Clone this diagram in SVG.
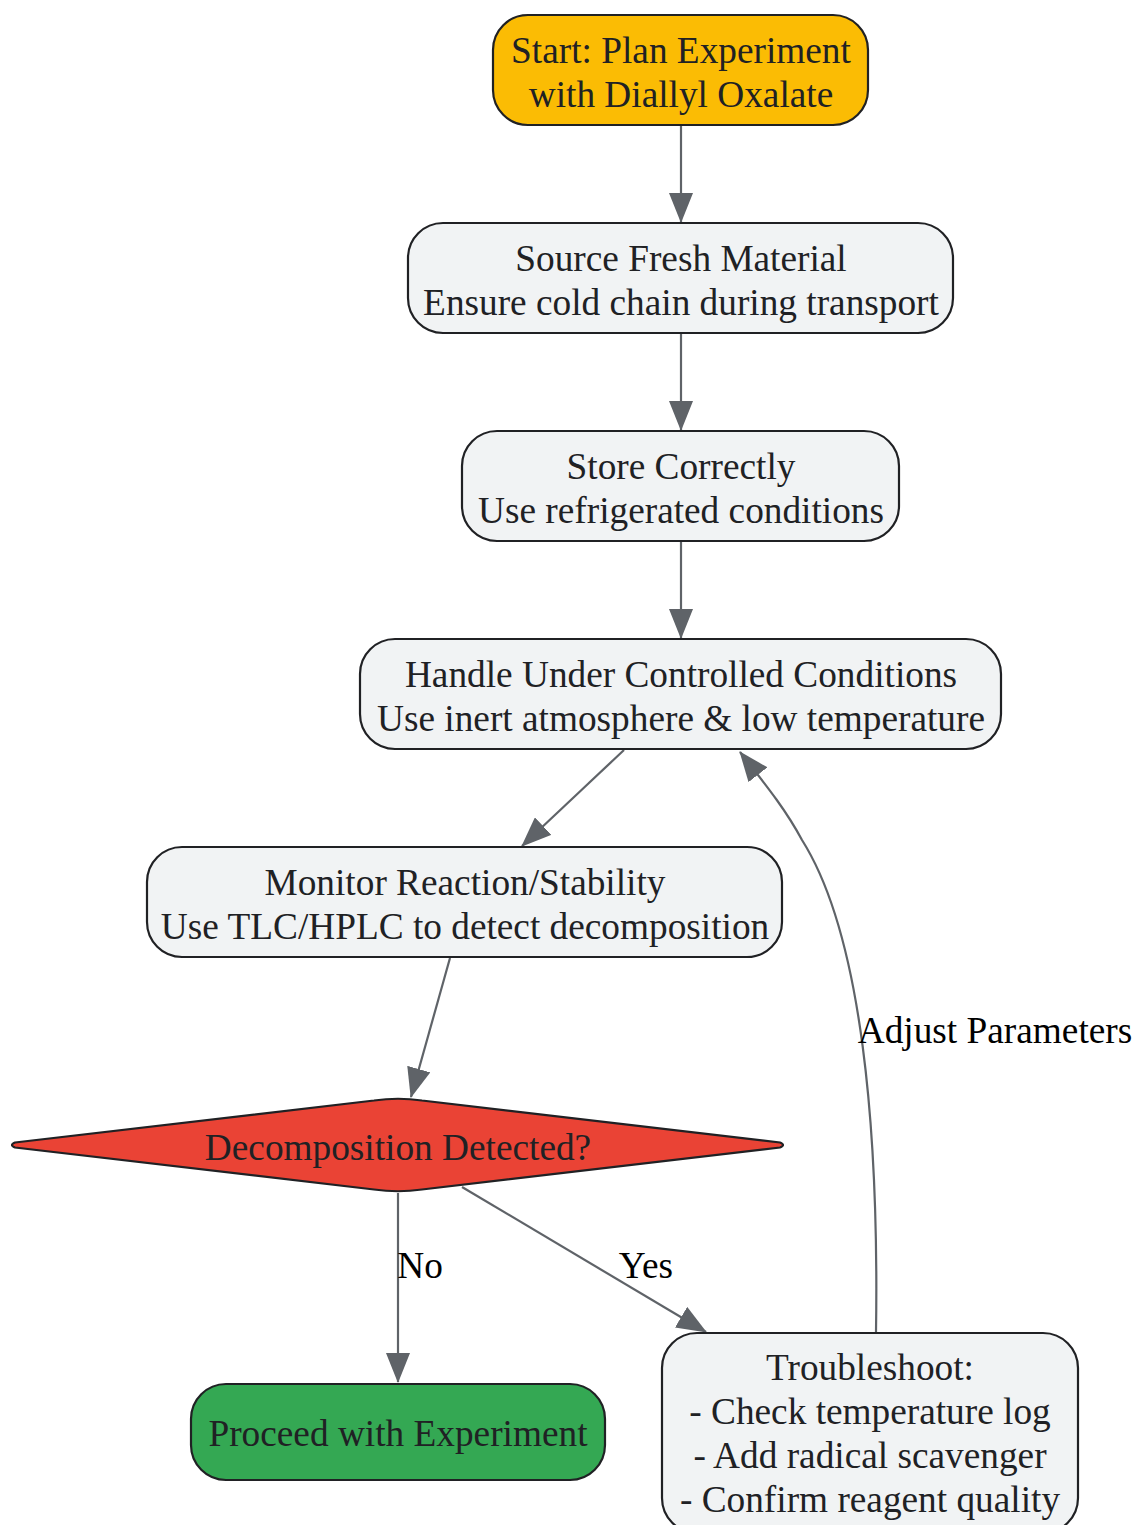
<svg xmlns="http://www.w3.org/2000/svg" width="1134" height="1525" viewBox="0 0 1134 1525">
<style>
.node{stroke:#202124;stroke-width:2.2}
.gray{fill:#f1f3f4}
.t{font-family:"Liberation Serif","Times New Roman",serif;font-size:37.3px;fill:#202124;text-anchor:middle;dominant-baseline:central}
.lbl{font-family:"Liberation Serif","Times New Roman",serif;font-size:37.3px;fill:#000;text-anchor:middle;dominant-baseline:central}
.edge{fill:none;stroke:#5f6368;stroke-width:2.2}
</style>
<defs>
<marker id="arr" markerUnits="userSpaceOnUse" markerWidth="30" markerHeight="24" viewBox="0 0 30 24" refX="29" refY="12" orient="auto">
<path d="M0,0 L30,12 L0,24 Z" fill="#5f6368"/>
</marker>
</defs>
<rect width="1134" height="1525" fill="#fff"/>
<g id="connectors">
<path class="edge" d="M681,125 L681,222" marker-end="url(#arr)"/>
<path class="edge" d="M681,333 L681,430" marker-end="url(#arr)"/>
<path class="edge" d="M681,541 L681,638" marker-end="url(#arr)"/>
<path class="edge" d="M624,750 L522,846" marker-end="url(#arr)"/>
<path class="edge" d="M450,958 L411,1097" marker-end="url(#arr)"/>
<path class="edge" d="M398,1193 L398,1382" marker-end="url(#arr)"/>
<path class="edge" d="M462,1187 L706,1332" marker-end="url(#arr)"/>
<path class="edge" d="M876,1333 C879,1130 862,935 802,840 C787,812 770,790 740,752" marker-end="url(#arr)"/>
<text class="lbl" x="420" y="1265">No</text>
<text class="lbl" x="646" y="1265">Yes</text>
<text class="lbl" x="995" y="1030">Adjust Parameters</text>
</g>
<g id="start">
<rect class="node" x="493" y="15" width="375" height="110" rx="35" fill="#fbbc04"/>
<text class="t" x="681" y="50">Start: Plan Experiment</text>
<text class="t" x="681" y="94">with Diallyl Oxalate</text>
</g>
<g id="source">
<rect class="node gray" x="408" y="223" width="545" height="110" rx="35"/>
<text class="t" x="681" y="258">Source Fresh Material</text>
<text class="t" x="681" y="302">Ensure cold chain during transport</text>
</g>
<g id="store">
<rect class="node gray" x="462" y="431" width="437" height="110" rx="35"/>
<text class="t" x="681" y="466">Store Correctly</text>
<text class="t" x="681" y="510">Use refrigerated conditions</text>
</g>
<g id="handle">
<rect class="node gray" x="360" y="639" width="641" height="110" rx="35"/>
<text class="t" x="681" y="674">Handle Under Controlled Conditions</text>
<text class="t" x="681" y="718">Use inert atmosphere &amp; low temperature</text>
</g>
<g id="monitor">
<rect class="node gray" x="147" y="847" width="635" height="110" rx="35"/>
<text class="t" x="465" y="882">Monitor Reaction/Stability</text>
<text class="t" x="465" y="926">Use TLC/HPLC to detect decomposition</text>
</g>
<g id="decision">
<path class="node" fill="#ea4335" d="M15,1142.5 L374,1100.5 Q398,1097 422,1100.5 L780,1142.5 Q786,1145 780,1147.5 L422,1189.5 Q398,1193 374,1189.5 L15,1147.5 Q9,1145 15,1142.5 Z"/>
<text class="t" x="398" y="1147">Decomposition Detected?</text>
</g>
<g id="proceed">
<rect class="node" x="191" y="1384" width="414" height="96" rx="35" fill="#34a853"/>
<text class="t" x="398" y="1433">Proceed with Experiment</text>
</g>
<g id="troubleshoot">
<rect class="node gray" x="662" y="1333" width="416" height="200" rx="35"/>
<text class="t" x="870" y="1367">Troubleshoot:</text>
<text class="t" x="870" y="1411">- Check temperature log</text>
<text class="t" x="870" y="1455">- Add radical scavenger</text>
<text class="t" x="870" y="1499">- Confirm reagent quality</text>
</g>
</svg>
